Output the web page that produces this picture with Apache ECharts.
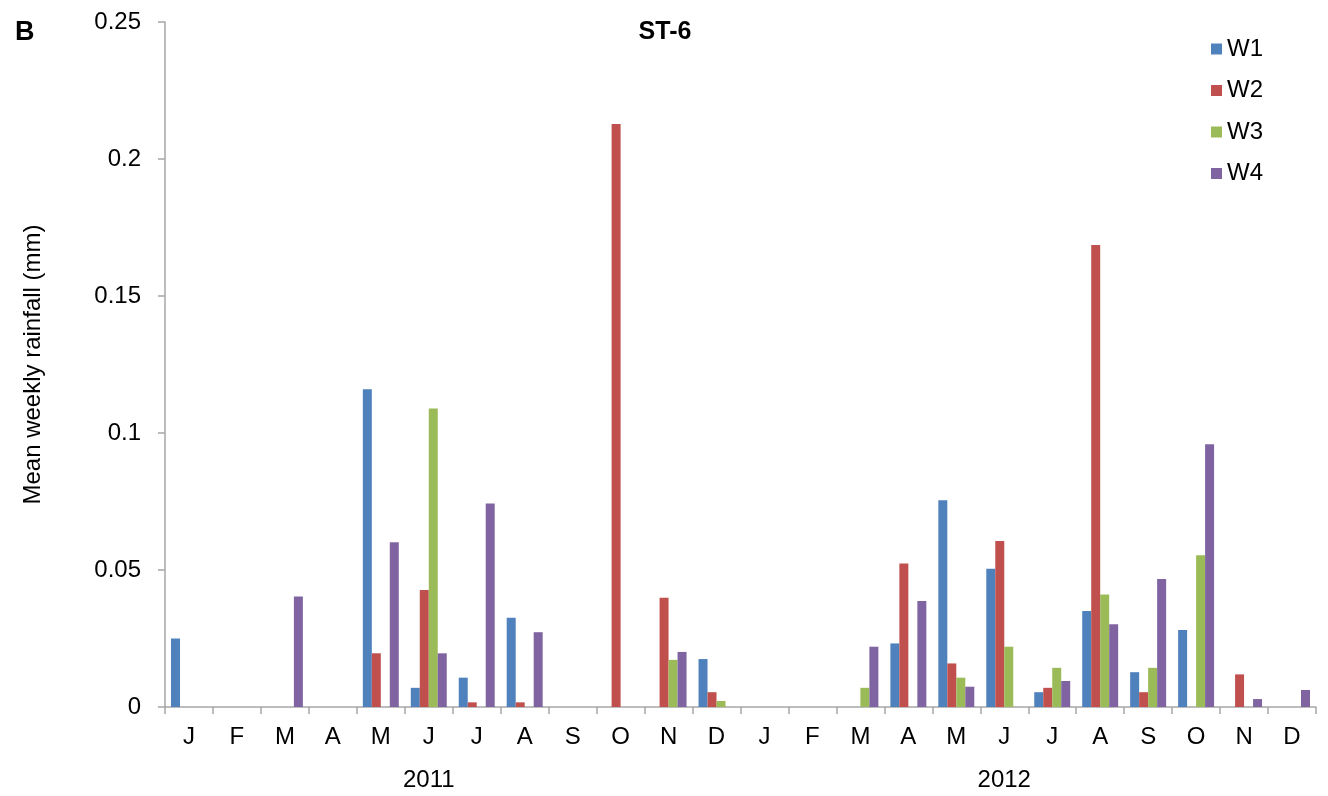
<!DOCTYPE html>
<html>
<head>
<meta charset="utf-8">
<script src="https://cdn.jsdelivr.net/npm/echarts@6/dist/echarts.min.js"></script>
<style>
html,body{margin:0;padding:0;background:#fff;}
#chart{width:1328px;height:796px;}
</style>
</head>
<body>
<div id="chart"></div>
<script>
const months = ['J','F','M','A','M','J','J','A','S','O','N','D','J','F','M','A','M','J','J','A','S','O','N','D'];
const years = ['','','','','','2011','','','','','','','','','','','','2012','','','','','',''];
const yTicks = [0, 0.05, 0.1, 0.15, 0.2, 0.25];
const W1 = [0.025,0,0,0,0.116,0.007,0.0107,0.0326,0,0,0,0.0175, 0,0,0,0.0232,0.0755,0.0505,0.0054,0.035,0.0127,0.0281,0,0];
const W2 = [0,0,0,0,0.0196,0.0427,0.0017,0.0017,0,0.2128,0.0399,0.0054, 0,0,0,0.0524,0.0159,0.0606,0.007,0.1686,0.0054,0,0.0119,0];
const W3 = [0,0,0,0,0,0.1089,0,0,0,0,0.0172,0.0022, 0,0,0.007,0,0.0107,0.022,0.0143,0.0411,0.0143,0.0554,0,0];
const W4 = [0,0,0.0403,0,0.0601,0.0196,0.0743,0.0273,0,0,0.0201,0, 0,0,0.022,0.0387,0.0074,0,0.0095,0.0302,0.0467,0.0959,0.0029,0.0062];
const seriesNames = ['W1','W2','W3','W4'];
const seriesData = [W1, W2, W3, W4];
const colors = ['#4F81BD','#C0504D','#9BBB59','#8064A2'];

const font = 'Liberation Sans, Arial, sans-serif';
const axisGray = '#A6A6A6';
const chart = echarts.init(document.getElementById('chart'));
chart.setOption({
  animation: false,
  color: colors,
  textStyle: { fontFamily: font },
  title: [
    { text: 'ST-6', left: 660, top: 15, textAlign: 'center',
      textStyle: { fontFamily: font, fontSize: 25, fontWeight: 'bold', color: '#000' } },
    { text: 'B', left: 10, top: 14,
      textStyle: { fontFamily: font, fontSize: 27, fontWeight: 'bold', color: '#000' } }
  ],
  legend: {
    orient: 'vertical',
    left: 1206, top: 32,
    icon: 'rect', itemWidth: 11, itemHeight: 11, itemGap: 17.5,
    textStyle: { fontFamily: font, fontSize: 24, color: '#000' },
    data: seriesNames
  },
  grid: { left: 165, right: 12, top: 22, bottom: 89, containLabel: false },
  xAxis: [
    {
      type: 'category', data: months, position: 'bottom',
      axisLine: { lineStyle: { color: axisGray, width: 1.5 } },
      axisTick: { show: true, length: 7, alignWithLabel: false, lineStyle: { color: axisGray, width: 1.5 } },
      axisLabel: { fontFamily: font, fontSize: 24, color: '#000', margin: 18, interval: 0 }
    },
    {
      type: 'category', data: years, position: 'bottom', gridIndex: 0,
      axisLine: { show: false }, axisTick: { show: false },
      axisLabel: { fontFamily: font, fontSize: 24, color: '#000', margin: 61, interval: 0 }
    }
  ],
  yAxis: {
    type: 'value', min: 0, max: 0.25, interval: 0.05,
    name: 'Mean weekly rainfall (mm)', nameLocation: 'middle', nameGap: 120,
    nameTextStyle: { fontFamily: font, fontSize: 24, color: '#000' },
    axisLine: { show: true, lineStyle: { color: axisGray, width: 1.5 } },
    axisTick: { show: true, length: 7, lineStyle: { color: axisGray, width: 1.5 } },
    splitLine: { show: false },
    axisLabel: { fontFamily: font, fontSize: 24, color: '#000', margin: 24,
      formatter: v => { const t = yTicks.find(x => Math.abs(x - v) < 1e-9); return String(t !== undefined ? t : v); } }
  },
  series: seriesNames.map((n, i) => ({
    name: n, type: 'bar', xAxisIndex: 0, data: seriesData[i],
    barGap: '0%', barCategoryGap: '25%',
    itemStyle: { color: colors[i] }
  }))
});
</script>
</body>
</html>
